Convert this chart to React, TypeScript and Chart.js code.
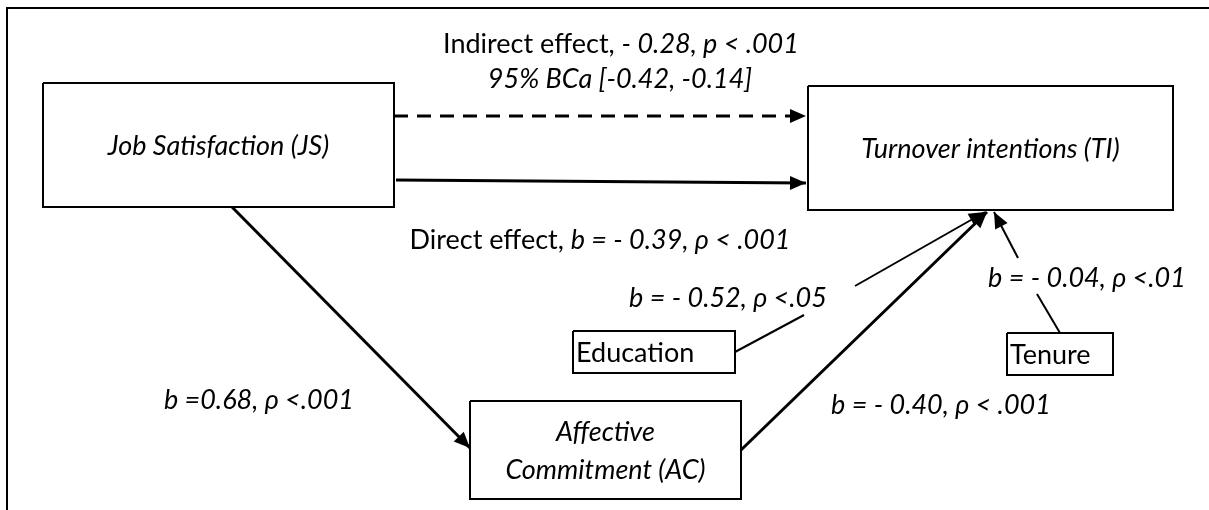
import React, { useEffect, useRef } from "react";
import { Chart, registerables } from "chart.js";

Chart.register(...registerables);

// Diagram units: a 1209 x 510 plane (y grows downward)
const boxNames = ["Job Satisfaction (JS)", "Turnover intentions (TI)", "Affective|Commitment (AC)", "Education", "Tenure"];
const boxItalic = [true, true, true, false, false];
const boxAlign = ["center", "center", "center", "left", "left"];
const boxLeft = [43, 808, 470, 573, 1007];
const boxTop = [83, 86, 401, 331, 333];
const boxRight = [394, 1173, 741, 735, 1113];
const boxBottom = [207, 210, 499, 373, 375];

// path segments
const segStart = [
  [394, 116], [396, 180], [232, 207], [741, 450], [735, 352], [855, 286], [1060, 333], [1018, 258],
];
const segEnd = [
  [806, 116], [806, 183], [470, 448], [987, 212], [804, 315], [985, 212], [1037, 294], [994, 212],
];
const segDashed = [true, false, false, false, false, false, false, false];
const segArrow = [true, true, true, true, false, true, false, true];
const segWidth = [3, 3, 3, 3, 2, 2, 2, 2];

// labels: runs [text, italic]
const labelRuns: [string, boolean][][] = [
  [["Indirect effect, ", false], ["- 0.28, p < .001", true]],
  [["95% BCa [-0.42, -0.14]", true]],
  [["Direct effect, ", false], ["b = - 0.39, \u03c1 < .001", true]],
  [["b = - 0.52, \u03c1 <.05", true]],
  [["b = - 0.04, \u03c1 <.01", true]],
  [["b =0.68, \u03c1 <.001", true]],
  [["b = - 0.40, \u03c1 < .001", true]],
];
const labelX = [621, 620, 600, 728, 1087, 259, 941];
const labelY = [44, 79, 240, 298, 278, 400, 405];

const FONT = "Lato";
const FS = 27;

export default function App() {
  const ref = useRef<HTMLCanvasElement | null>(null);
  useEffect(() => {
    if (!ref.current) return;
    const datasets: any[] = [];
    // outer frame
    datasets.push({
      data: [{ x: 1209, y: 8 }, { x: 7, y: 8 }, { x: 7, y: 510 }],
      borderWidth: 2,
    });
    boxNames.forEach((_, i) => {
      datasets.push({
        data: [
          { x: boxLeft[i], y: boxTop[i] },
          { x: boxRight[i], y: boxTop[i] },
          { x: boxRight[i], y: boxBottom[i] },
          { x: boxLeft[i], y: boxBottom[i] },
          { x: boxLeft[i], y: boxTop[i] },
        ],
        borderWidth: 2,
      });
    });
    segStart.forEach((s, i) => {
      datasets.push({
        data: [{ x: s[0], y: s[1] }, { x: segEnd[i][0], y: segEnd[i][1] }],
        borderWidth: segWidth[i],
        borderDash: segDashed[i] ? [14, 9] : [],
      });
    });
    datasets.forEach((d) => {
      d.showLine = true;
      d.pointRadius = 0;
      d.borderColor = "#000";
      d.fill = false;
      d.tension = 0;
      d.borderCapStyle = "butt";
      d.borderJoinStyle = "miter";
    });

    const overlay = {
      id: "overlay",
      afterDatasetsDraw(chart: any) {
        const ctx = chart.ctx;
        const xs = chart.scales.x;
        const ys = chart.scales.y;
        const px = (v: number) => xs.getPixelForValue(v);
        const py = (v: number) => ys.getPixelForValue(v);
        ctx.save();
        // arrowheads
        ctx.fillStyle = "#000";
        segStart.forEach((s, i) => {
          if (!segArrow[i]) return;
          const x1 = px(s[0]), y1 = py(s[1]);
          const x2 = px(segEnd[i][0]), y2 = py(segEnd[i][1]);
          const a = Math.atan2(y2 - y1, x2 - x1);
          const L = 16, W = 7;
          ctx.beginPath();
          ctx.moveTo(x2, y2);
          ctx.lineTo(x2 - L * Math.cos(a) + W * Math.sin(a), y2 - L * Math.sin(a) - W * Math.cos(a));
          ctx.lineTo(x2 - L * Math.cos(a) - W * Math.sin(a), y2 - L * Math.sin(a) + W * Math.cos(a));
          ctx.closePath();
          ctx.fill();
        });
        ctx.textBaseline = "middle";
        const fontOf = (it: boolean) => `${it ? "italic " : ""}${FS}px ${FONT}`;
        // box texts
        boxNames.forEach((name, i) => {
          const lines = name.split("|");
          ctx.font = fontOf(boxItalic[i]);
          const cx = px((boxLeft[i] + boxRight[i]) / 2);
          const cy = py((boxTop[i] + boxBottom[i]) / 2);
          const lh = 38;
          lines.forEach((ln, k) => {
            const y = cy + (k - (lines.length - 1) / 2) * lh + 1;
            if (boxAlign[i] === "left") {
              ctx.textAlign = "left";
              ctx.fillText(ln, px(boxLeft[i]) + 3, y);
            } else {
              ctx.textAlign = "center";
              ctx.fillText(ln, cx, y);
            }
          });
        });
        // edge labels
        ctx.textAlign = "left";
        labelRuns.forEach((runs, i) => {
          let total = 0;
          runs.forEach(([t, it]) => {
            ctx.font = fontOf(it);
            total += ctx.measureText(t).width;
          });
          let x = px(labelX[i]) - total / 2;
          const y = py(labelY[i]);
          runs.forEach(([t, it]) => {
            ctx.font = fontOf(it);
            ctx.fillText(t, x, y);
            x += ctx.measureText(t).width;
          });
        });
        ctx.restore();
      },
    };

    const chart = new Chart(ref.current, {
      type: "scatter",
      data: { datasets },
      options: {
        animation: false,
        responsive: false,
        devicePixelRatio: 1,
        layout: { padding: 0 },
        plugins: { legend: { display: false }, tooltip: { enabled: false } },
        events: [],
        scales: {
          x: { type: "linear", min: 0, max: 1209, display: false },
          y: { type: "linear", min: 0, max: 510, reverse: true, display: false },
        },
      },
      plugins: [overlay],
    });
    return () => chart.destroy();
  }, []);

  return (
    <div style={{ position: "absolute", left: 0, top: 0, width: 1209, height: 510, background: "#fff" }}>
      <canvas ref={ref} width={1209} height={510} style={{ display: "block" }} />
    </div>
  );
}
